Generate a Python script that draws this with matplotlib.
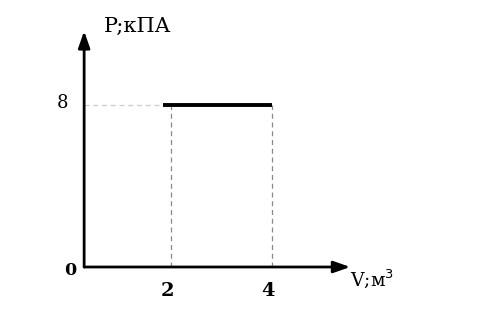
import matplotlib
matplotlib.use("Agg")
import matplotlib.pyplot as plt

# process data
v_line = [1.85, 4.0]
p_line = [8.0, 8.0]
v_marks = [2, 4]
p_marks = [8]

plt.rcParams['font.family'] = ['DejaVu Serif']

fig = plt.figure(figsize=(4.8, 3.2), dpi=100)
ax = fig.add_axes([0, 0, 1, 1])
ax.set_xlim(-1.386, 8.119)
ax.set_ylim(-2.617, 13.185)
ax.axis('off')

x0, y0 = 0.28, 0.0
# axes with arrow heads
ax.annotate('', xy=(5.55, y0), xytext=(x0, y0),
            arrowprops=dict(arrowstyle='-|>,head_length=1.0,head_width=0.35',
                            color='black', lw=2, shrinkA=0, shrinkB=0))
ax.annotate('', xy=(x0, 11.65), xytext=(x0, y0),
            arrowprops=dict(arrowstyle='-|>,head_length=1.0,head_width=0.35',
                            color='black', lw=2, shrinkA=0, shrinkB=0))

# guide lines
ax.plot([x0, v_line[0]], [p_marks[0], p_marks[0]], ls=(0, (4, 3)), color='#cccccc', lw=0.9)
for v in v_marks:
    ax.plot([v, v], [y0, p_marks[0]], ls=(0, (4, 3)), color='#888888', lw=0.9)

# process line
ax.plot(v_line, p_line, color='black', lw=2.8, solid_capstyle='butt')

# labels
ax.text(0.67, 11.9, 'P;кПА', fontsize=15, ha='left', va='center')
ax.text(5.54, -0.55, 'V;м$^{3}$', fontsize=13.5, ha='left', va='center')
ax.text(0.0, -0.17, '0', fontsize=12.5, ha='center', va='center', fontweight='bold')
for p in p_marks:
    ax.text(-0.139, p + 0.12, str(p), fontsize=13, ha='center', va='center')
for v in v_marks:
    ax.text(v - 0.07, -1.2, str(v), fontsize=14, ha='center', va='center', fontweight='bold')

fig.savefig('out.png', dpi=100)
